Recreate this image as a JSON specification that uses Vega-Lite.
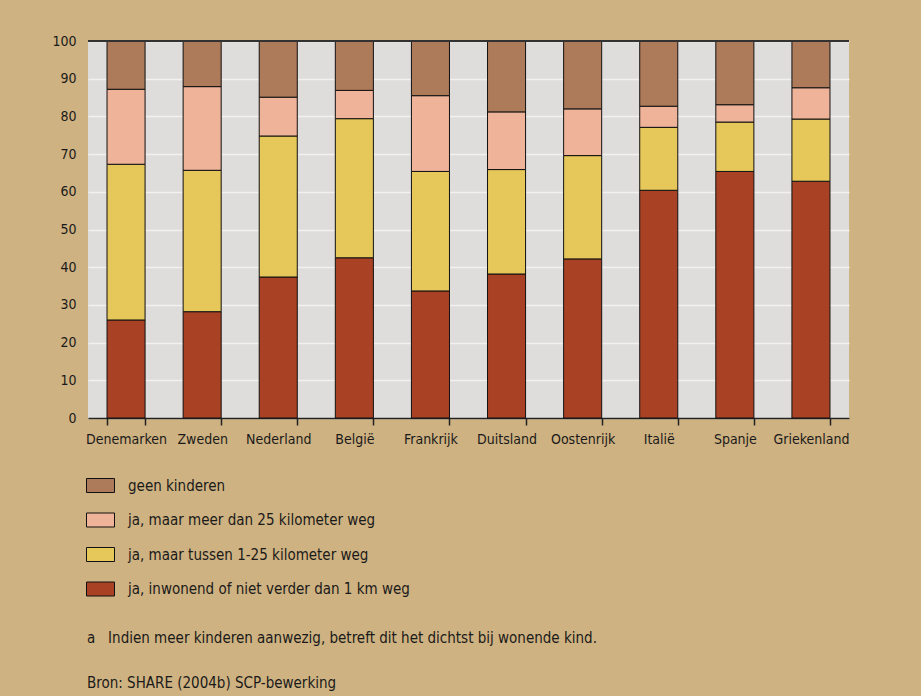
{
  "$schema": "https://vega.github.io/schema/vega-lite/v6.json",
  "width": 761,
  "height": 377,
  "autosize": {"type": "none"},
  "padding": {"left": 88, "top": 41, "right": 72, "bottom": 278},
  "background": "#cfb281",
  "config": {
    "view": {"fill": "#dfdddb", "stroke": null},
    "font": "DejaVu Sans Condensed, Roboto, sans-serif",
    "axis": {"labelFont": "DejaVu Sans Condensed, Roboto, sans-serif", "labelColor": "#1a1a1a"},
    "legend": {"labelFont": "DejaVu Sans Condensed, Roboto, sans-serif", "labelColor": "#1a1a1a"}
  },
  "title": {
    "text": ["a\u00a0\u00a0\u00a0Indien meer kinderen aanwezig, betreft dit het dichtst bij wonende kind.", "Bron: SHARE (2004b) SCP-bewerking"],
    "orient": "bottom",
    "anchor": "start",
    "frame": "group",
    "dx": -1,
    "offset": 33,
    "fontSize": 15,
    "fontWeight": "normal",
    "lineHeight": 45,
    "color": "#1a1a1a",
    "font": "DejaVu Sans Condensed, Roboto, sans-serif"
  },
  "data": {
    "values": [
      {"land": "Denemarken", "categorie": "ja, inwonend of niet verder dan 1 km weg", "procent": 26.0},
      {"land": "Denemarken", "categorie": "ja, maar tussen 1-25 kilometer weg", "procent": 41.3},
      {"land": "Denemarken", "categorie": "ja, maar meer dan 25 kilometer weg", "procent": 19.9},
      {"land": "Denemarken", "categorie": "geen kinderen", "procent": 12.8},
      {"land": "Zweden", "categorie": "ja, inwonend of niet verder dan 1 km weg", "procent": 28.2},
      {"land": "Zweden", "categorie": "ja, maar tussen 1-25 kilometer weg", "procent": 37.5},
      {"land": "Zweden", "categorie": "ja, maar meer dan 25 kilometer weg", "procent": 22.2},
      {"land": "Zweden", "categorie": "geen kinderen", "procent": 12.1},
      {"land": "Nederland", "categorie": "ja, inwonend of niet verder dan 1 km weg", "procent": 37.4},
      {"land": "Nederland", "categorie": "ja, maar tussen 1-25 kilometer weg", "procent": 37.4},
      {"land": "Nederland", "categorie": "ja, maar meer dan 25 kilometer weg", "procent": 10.3},
      {"land": "Nederland", "categorie": "geen kinderen", "procent": 14.9},
      {"land": "België", "categorie": "ja, inwonend of niet verder dan 1 km weg", "procent": 42.5},
      {"land": "België", "categorie": "ja, maar tussen 1-25 kilometer weg", "procent": 36.9},
      {"land": "België", "categorie": "ja, maar meer dan 25 kilometer weg", "procent": 7.5},
      {"land": "België", "categorie": "geen kinderen", "procent": 13.1},
      {"land": "Frankrijk", "categorie": "ja, inwonend of niet verder dan 1 km weg", "procent": 33.7},
      {"land": "Frankrijk", "categorie": "ja, maar tussen 1-25 kilometer weg", "procent": 31.7},
      {"land": "Frankrijk", "categorie": "ja, maar meer dan 25 kilometer weg", "procent": 20.1},
      {"land": "Frankrijk", "categorie": "geen kinderen", "procent": 14.5},
      {"land": "Duitsland", "categorie": "ja, inwonend of niet verder dan 1 km weg", "procent": 38.2},
      {"land": "Duitsland", "categorie": "ja, maar tussen 1-25 kilometer weg", "procent": 27.7},
      {"land": "Duitsland", "categorie": "ja, maar meer dan 25 kilometer weg", "procent": 15.3},
      {"land": "Duitsland", "categorie": "geen kinderen", "procent": 18.8},
      {"land": "Oostenrijk", "categorie": "ja, inwonend of niet verder dan 1 km weg", "procent": 42.2},
      {"land": "Oostenrijk", "categorie": "ja, maar tussen 1-25 kilometer weg", "procent": 27.4},
      {"land": "Oostenrijk", "categorie": "ja, maar meer dan 25 kilometer weg", "procent": 12.4},
      {"land": "Oostenrijk", "categorie": "geen kinderen", "procent": 18.0},
      {"land": "Italië", "categorie": "ja, inwonend of niet verder dan 1 km weg", "procent": 60.4},
      {"land": "Italië", "categorie": "ja, maar tussen 1-25 kilometer weg", "procent": 16.7},
      {"land": "Italië", "categorie": "ja, maar meer dan 25 kilometer weg", "procent": 5.6},
      {"land": "Italië", "categorie": "geen kinderen", "procent": 17.3},
      {"land": "Spanje", "categorie": "ja, inwonend of niet verder dan 1 km weg", "procent": 65.4},
      {"land": "Spanje", "categorie": "ja, maar tussen 1-25 kilometer weg", "procent": 13.1},
      {"land": "Spanje", "categorie": "ja, maar meer dan 25 kilometer weg", "procent": 4.6},
      {"land": "Spanje", "categorie": "geen kinderen", "procent": 16.9},
      {"land": "Griekenland", "categorie": "ja, inwonend of niet verder dan 1 km weg", "procent": 62.8},
      {"land": "Griekenland", "categorie": "ja, maar tussen 1-25 kilometer weg", "procent": 16.5},
      {"land": "Griekenland", "categorie": "ja, maar meer dan 25 kilometer weg", "procent": 8.3},
      {"land": "Griekenland", "categorie": "geen kinderen", "procent": 12.4}
    ]
  },
  "resolve": {"axis": {"y": "independent"}},
  "layer": [
    {
      "transform": [
        {"calculate": "indexof(['ja, inwonend of niet verder dan 1 km weg','ja, maar tussen 1-25 kilometer weg','ja, maar meer dan 25 kilometer weg','geen kinderen'], datum.categorie)", "as": "volgorde"}
      ],
      "mark": {"type": "bar", "stroke": "#111111", "strokeWidth": 1},
      "encoding": {
        "x": {
          "field": "land",
          "type": "nominal",
          "sort": null,
          "scale": {"paddingInner": 0.5, "paddingOuter": 0.25},
          "axis": {
            "title": null,
            "labelAngle": 0,
            "labelFontSize": 14,
            "labelPadding": 7,
            "tickBand": "extent",
            "tickSize": 7,
            "tickColor": "#222222",
            "tickWidth": 1.5,
            "domainColor": "#222222",
            "domainWidth": 1.5,
            "grid": false
          }
        },
        "y": {
          "field": "procent",
          "type": "quantitative",
          "stack": "zero",
          "scale": {"domain": [0, 100], "nice": false},
          "axis": {
            "title": null,
            "values": [0, 10, 20, 30, 40, 50, 60, 70, 80, 90, 100],
            "labelOverlap": false,
            "labelFontSize": 14,
            "labelPadding": 12,
            "ticks": false,
            "domain": false,
            "grid": true,
            "gridColor": "#f2f1ef",
            "gridWidth": 1.5
          }
        },
        "color": {
          "field": "categorie",
          "type": "nominal",
          "scale": {
            "domain": ["geen kinderen", "ja, maar meer dan 25 kilometer weg", "ja, maar tussen 1-25 kilometer weg", "ja, inwonend of niet verder dan 1 km weg"],
            "range": ["#ad7a5a", "#eeb399", "#e6c75a", "#a94224"]
          },
          "legend": {
            "orient": "none",
            "legendX": -2,
            "legendY": 430,
            "title": null,
            "symbolType": "M-1,-0.5H1V0.5H-1Z",
            "symbolSize": 784,
            "symbolStrokeColor": "#111111",
            "symbolStrokeWidth": 1,
            "symbolOpacity": 1,
            "rowPadding": 10.5,
            "labelFontSize": 15,
            "labelLimit": 0,
            "labelOffset": 13
          }
        },
        "order": {"field": "volgorde", "type": "quantitative", "sort": "ascending"}
      }
    },
    {
      "mark": {"type": "rule", "color": "#333333", "strokeWidth": 1.5},
      "encoding": {"y": {"datum": 100, "axis": null}}
    }
  ]
}
